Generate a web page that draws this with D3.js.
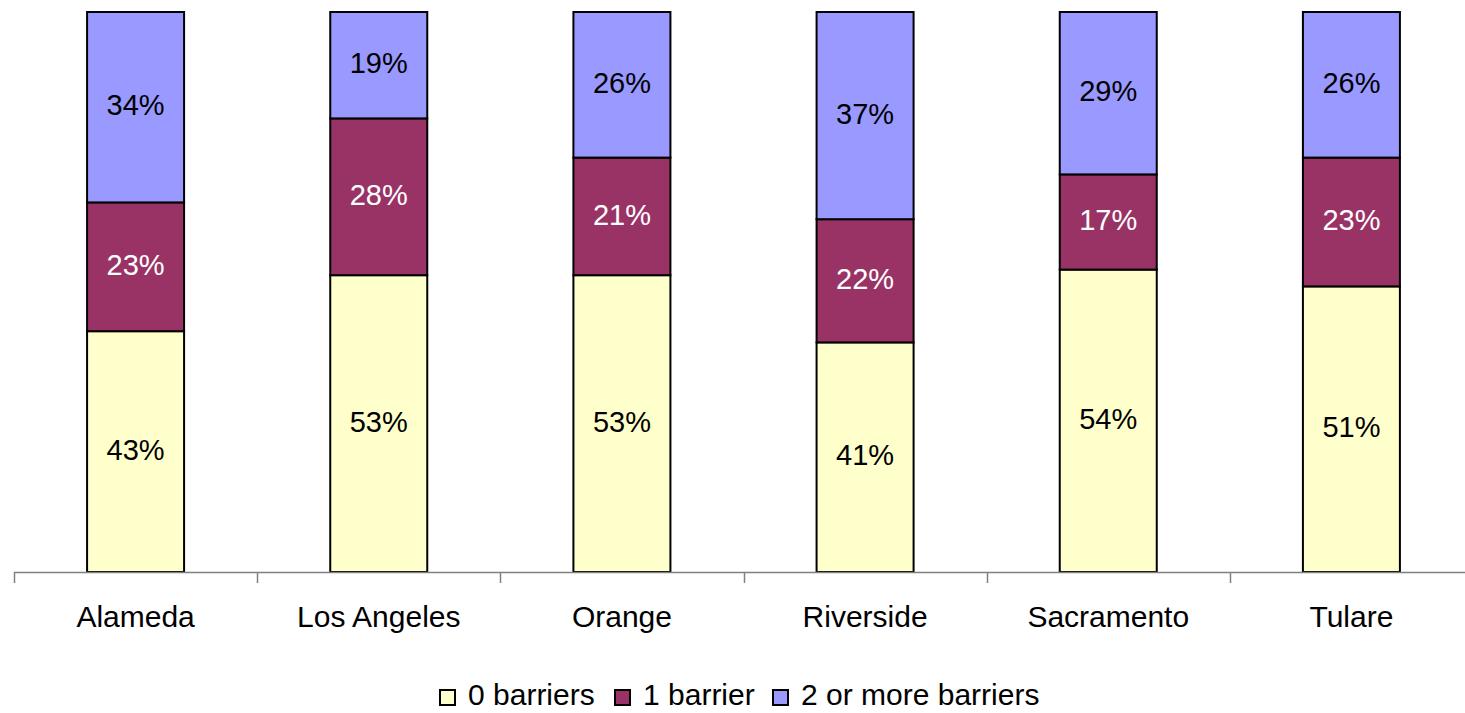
<!DOCTYPE html>
<html lang="en">
<head>
<meta charset="UTF-8">
<title>Barriers by county</title>
<style>
  body { margin: 0; background: #fff; }
  text { font-family: "Liberation Sans", Arial, sans-serif; }
</style>
</head>
<body>
<svg width="1465" height="713"></svg>
<script src="https://d3js.org/d3.v7.min.js"></script>
<script>
// data
var counties = ["Alameda", "Los Angeles", "Orange", "Riverside", "Sacramento", "Tulare"];
var seriesNames = ["0 barriers", "1 barrier", "2 or more barriers"];
var zeroBarriers = [43, 53, 53, 41, 54, 51];
var oneBarrier = [23, 28, 21, 22, 17, 23];
var twoPlus = [34, 19, 26, 37, 29, 26];
var colors = ["#FFFFCC", "#993366", "#9999FF"];
var labelColors = ["#000", "#fff", "#000"];

var rows = counties.map(function(c, i) {
  return { county: c, s0: zeroBarriers[i], s1: oneBarrier[i], s2: twoPlus[i] };
});

var svg = d3.select("svg");

// one slot per county, bar sits in the middle of its slot
var x = d3.scaleBand()
  .domain(counties)
  .range([14, 1473])
  .padding(0);
var barW = 97;
var cx = function(c) { return x(c) + x.bandwidth() / 2; };

var y = d3.scaleLinear().domain([0, 100]).range([572, 12]);

var stack = d3.stack().keys(["s0", "s1", "s2"]);
var layers = stack(rows);

var g = svg.append("g");

layers.forEach(function(layer, k) {
  var grp = g.append("g");
  grp.selectAll("rect")
    .data(layer)
    .enter().append("rect")
    .attr("x", function(d) { return cx(d.data.county) - barW / 2; })
    .attr("y", function(d) { return y(d[1]); })
    .attr("width", barW)
    .attr("height", function(d) { return y(d[0]) - y(d[1]); })
    .attr("fill", colors[k])
    .attr("stroke", "#000")
    .attr("stroke-width", 2);

  grp.selectAll("text")
    .data(layer)
    .enter().append("text")
    .attr("x", function(d) { return cx(d.data.county); })
    .attr("y", function(d) { return (y(d[0]) + y(d[1])) / 2 - 2; })
    .attr("dy", "0.35em")
    .attr("text-anchor", "middle")
    .attr("fill", labelColors[k])
    .style("font-size", "29px")
    .text(function(d) { return (d[1] - d[0]) + "%"; });
});

// category axis
svg.append("line")
  .attr("x1", 14).attr("x2", 1465)
  .attr("y1", 572.5).attr("y2", 572.5)
  .attr("stroke", "#808080").attr("stroke-width", 1.5);

d3.range(counties.length + 1).forEach(function(i) {
  var tx = Math.round(14 + x.step() * i) + 0.5;
  svg.append("line")
    .attr("x1", tx).attr("x2", tx)
    .attr("y1", 572).attr("y2", 583)
    .attr("stroke", "#808080").attr("stroke-width", 1.5);
});

svg.append("g").selectAll("text")
  .data(counties)
  .enter().append("text")
  .attr("x", function(d) { return cx(d); })
  .attr("y", 616.5)
  .attr("dy", "0.35em")
  .attr("text-anchor", "middle")
  .style("font-size", "30px")
  .text(function(d) { return d; });

// legend
var legendX = [440, 615, 773];
var legend = svg.append("g");
seriesNames.forEach(function(name, k) {
  legend.append("rect")
    .attr("x", legendX[k]).attr("y", 690)
    .attr("width", 15).attr("height", 15)
    .attr("fill", colors[k])
    .attr("stroke", "#000").attr("stroke-width", 2);
  legend.append("text")
    .attr("x", legendX[k] + 28).attr("y", 705)
    .style("font-size", "30px")
    .text(name);
});
</script>
</body>
</html>
